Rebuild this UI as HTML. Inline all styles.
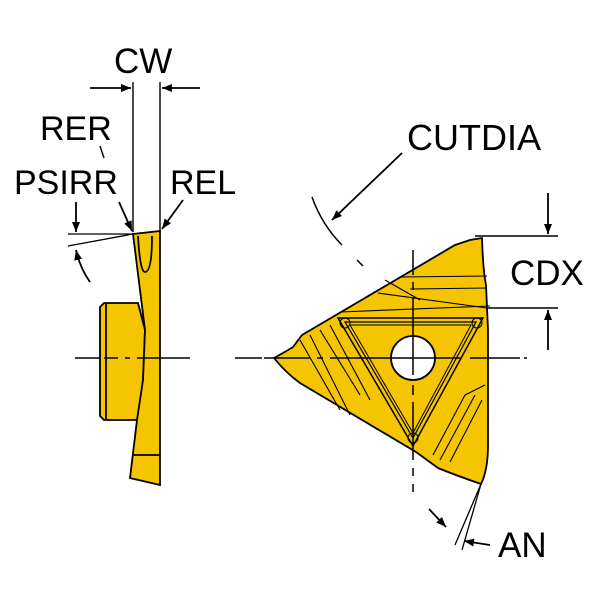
<!DOCTYPE html>
<html><head><style>body{margin:0;background:#fff}svg{display:block}</style></head>
<body>
<svg width="600" height="600" viewBox="0 0 600 600" xmlns="http://www.w3.org/2000/svg" font-family="Liberation Sans, sans-serif">
<defs>
<marker id="a" viewBox="0 0 10 10" refX="10" refY="5" markerWidth="10" markerHeight="10" orient="auto-start-reverse" markerUnits="userSpaceOnUse"><path d="M0,1 L10,5 L0,9 Z" fill="#000"/></marker>
</defs>
<g fill="#000" font-size="35">
<text x="114" y="73">CW</text>
<text x="40" y="140" font-size="34">RER</text>
<text x="14" y="194" font-size="34">PSIRR</text>
<text x="170" y="194" font-size="34">REL</text>
<text x="407" y="150" font-size="36">CUTDIA</text>
<text x="510" y="285" font-size="35">CDX</text>
<text x="498" y="557" font-size="35">AN</text>
</g>
<g stroke="#000" stroke-width="1.8" fill="none">
<path d="M100,307 L104,303 L138,303 L145,330 L143,380 L138,420 L104,420 L100,416 Z" fill="#f4c500"/>
<line x1="106" y1="304" x2="106" y2="419"/>
<path d="M133,234 L160,231 L160,485 L130,478 L137,420 L143,380 L145,330 L140,290 Z" fill="#f4c500"/>
<path d="M138,236 Q140,272 145,272 Q152,272 152,236"/>
<line x1="133" y1="455" x2="160" y2="455"/>
<line x1="133" y1="82" x2="133" y2="232" stroke-width="1.4"/>
<line x1="160" y1="82" x2="160" y2="232" stroke-width="1.4"/>
<line x1="90" y1="88" x2="131" y2="88" marker-end="url(#a)"/>
<line x1="200" y1="88" x2="162" y2="88" marker-end="url(#a)"/>
<line x1="100" y1="146" x2="104" y2="158" stroke-width="1.4"/>
<line x1="119" y1="202" x2="132" y2="231" marker-end="url(#a)"/>
<line x1="183" y1="200" x2="162" y2="229" marker-end="url(#a)"/>
<line x1="68" y1="234" x2="133" y2="234" stroke-width="1.3"/>
<line x1="68" y1="246" x2="133" y2="234" stroke-width="1.3"/>
<line x1="76" y1="202" x2="76" y2="232" marker-end="url(#a)"/>
<path d="M90,282 Q80,268 76,250" marker-end="url(#a)"/>
<path d="M75,358 H100 M104,358 H118 M125,358 H130 M137,358 H190" stroke-width="1.4"/>
<path d="M235,358 H262" stroke-width="1.4"/>
<path d="M274,358 Q285,352 293,347 L302,335 L455,245 L470,240 L482,238 Q483,270 486,285 L488,330 L488,445 Q488,470 481,484 Q455,475 438,468 L416,452 L300,383 Q285,372 274,358 Z" fill="#f4c500"/>
<path d="M338,318 L483,318 L413,446 Z" stroke-width="1.5"/>
<path d="M345,322 L476,322 L413,438 Z" stroke-width="1.2"/>
<path d="M350,325 L471,325 L413,433 Z" stroke-width="1"/>
<circle cx="345" cy="323" r="5" stroke-width="1"/>
<circle cx="477" cy="323" r="5" stroke-width="1"/>
<circle cx="413" cy="438" r="5" stroke-width="1"/>
<circle cx="413" cy="358" r="22" fill="#fff"/>
<g stroke-width="1.1">
<line x1="400" y1="277" x2="487" y2="276"/>
<line x1="410" y1="289" x2="487" y2="288"/>
<line x1="385" y1="280" x2="420" y2="300"/>
<path d="M378,293 Q430,300 487,308"/>
<line x1="340" y1="312" x2="490" y2="306"/>
<line x1="300" y1="340" x2="340" y2="410"/>
<line x1="310" y1="335" x2="350" y2="415"/>
<line x1="320" y1="330" x2="360" y2="395"/>
<line x1="330" y1="325" x2="370" y2="400"/>
<line x1="440" y1="460" x2="475" y2="395"/>
<line x1="450" y1="462" x2="482" y2="400"/>
<line x1="433" y1="455" x2="465" y2="395"/>
<path d="M465,395 L485,385"/>
</g>
<path d="M413,250 V275 M413,282 V290 M413,297 V375 M413,385 V395 M413,402 V460 M413,468 V476 M413,484 V492" stroke-width="1.5"/>
<path d="M264,358 H310 M317,358 H323 M330,358 H460 M470,358 H520 M524,358 H527" stroke-width="1.5"/>
<path d="M312,197 Q322,225 342,245" stroke-width="1.5"/>
<path d="M357,260 L363,266" stroke-width="1.5"/>
<line x1="402" y1="153" x2="332" y2="220" marker-end="url(#a)"/>
<line x1="475" y1="236" x2="558" y2="236" stroke-width="1.4"/>
<line x1="488" y1="308" x2="558" y2="308" stroke-width="1.4"/>
<line x1="548" y1="193" x2="548" y2="234" marker-end="url(#a)"/>
<line x1="548" y1="350" x2="548" y2="310" marker-end="url(#a)"/>
<line x1="481" y1="484" x2="455" y2="545" stroke-width="1.3"/>
<line x1="481" y1="484" x2="462" y2="550" stroke-width="1.3"/>
<line x1="429" y1="509" x2="446" y2="527" marker-end="url(#a)"/>
<line x1="490" y1="545" x2="464" y2="541" marker-end="url(#a)"/>
</g>
</svg>
</body></html>
